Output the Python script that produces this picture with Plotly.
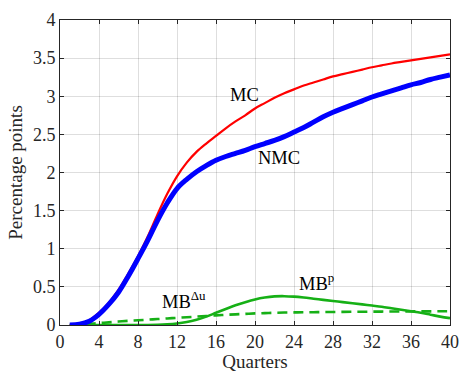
import plotly.graph_objects as go

# Horizon in quarters
quarters = list(range(1, 41))

# MC: total response (percentage points)
mc = [0.00, 0.015, 0.06, 0.16, 0.29, 0.46, 0.67, 0.90, 1.16, 1.45,
      1.72, 1.95, 2.13, 2.27, 2.38, 2.48, 2.58, 2.67, 2.75, 2.84,
      2.91, 2.98, 3.04, 3.09, 3.14, 3.18, 3.22, 3.26, 3.29, 3.32,
      3.35, 3.38, 3.405, 3.43, 3.45, 3.47, 3.49, 3.51, 3.53, 3.55]

# NMC
nmc = [0.00, 0.01, 0.05, 0.14, 0.27, 0.43, 0.64, 0.87, 1.11, 1.37,
       1.60, 1.79, 1.91, 2.01, 2.09, 2.16, 2.21, 2.25, 2.29, 2.34,
       2.38, 2.42, 2.47, 2.53, 2.59, 2.66, 2.73, 2.79, 2.84, 2.89,
       2.94, 2.99, 3.03, 3.07, 3.11, 3.15, 3.18, 3.22, 3.25, 3.28]

# MB^p (solid green)
mb_p = [0.0, 0.0, 0.0, 0.0, 0.0, 0.0, 0.0, 0.0, 0.0, 0.002,
        0.008, 0.02, 0.04, 0.07, 0.11, 0.16, 0.21, 0.26, 0.30, 0.335,
        0.36, 0.375, 0.378, 0.372, 0.36, 0.345, 0.33, 0.315, 0.30, 0.285,
        0.27, 0.255, 0.24, 0.22, 0.20, 0.18, 0.16, 0.135, 0.11, 0.09]

# MB^Δu (dashed green)
mb_du = [0.0, 0.005, 0.015, 0.025, 0.035, 0.045, 0.055, 0.062, 0.07, 0.078,
         0.086, 0.094, 0.102, 0.11, 0.118, 0.126, 0.133, 0.14, 0.146, 0.152,
         0.156, 0.16, 0.163, 0.165, 0.167, 0.168, 0.17, 0.171, 0.172, 0.173,
         0.174, 0.175, 0.176, 0.177, 0.177, 0.178, 0.179, 0.179, 0.18, 0.18]

x_ticks = list(range(0, 41, 4))
y_ticks = [0, 0.5, 1, 1.5, 2, 2.5, 3, 3.5, 4]
y_tick_text = ["0", "0.5", "1", "1.5", "2", "2.5", "3", "3.5", "4"]

FONT = "Liberation Serif"
GREEN = "#16b016"
AXIS_COL = "#262626"
GRID_COL = "rgba(0,0,0,0.13)"

fig = go.Figure()
fig.add_trace(go.Scatter(x=quarters, y=mb_du, mode="lines",
                         line=dict(color=GREEN, width=2.6, dash="10px,6px", shape="spline")))
fig.add_trace(go.Scatter(x=quarters, y=mb_p, mode="lines",
                         line=dict(color=GREEN, width=2.6, shape="spline")))
fig.add_trace(go.Scatter(x=quarters, y=mc, mode="lines",
                         line=dict(color="#ff0000", width=2.2, shape="spline")))
fig.add_trace(go.Scatter(x=quarters, y=nmc, mode="lines",
                         line=dict(color="#0000ff", width=5, shape="spline")))

label_font = dict(family=FONT, size=18.5, color="#000000")
fig.add_annotation(x=18.9, y=3.01, text="MC", showarrow=False, font=label_font)
fig.add_annotation(x=22.5, y=2.19, text="NMC", showarrow=False, font=label_font)
fig.add_annotation(x=12.7, y=0.33, text="MB<sup>Δu</sup>", showarrow=False, font=label_font)
fig.add_annotation(x=26.3, y=0.56, text="MB<sup>p</sup>", showarrow=False, font=label_font)

axis_common = dict(
    showline=True, linecolor=AXIS_COL, linewidth=1, mirror="ticks",
    ticks="inside", ticklen=4, tickcolor=AXIS_COL, tickwidth=1,
    showgrid=True, gridcolor=GRID_COL, gridwidth=1, zeroline=False,
    tickfont=dict(family=FONT, size=18, color=AXIS_COL),
)

fig.update_xaxes(range=[0, 40], tickvals=x_ticks, ticklabeloverflow="allow",
                 title=dict(text="Quarters", font=dict(family=FONT, size=19, color=AXIS_COL), standoff=5),
                 **axis_common)
fig.update_yaxes(range=[0, 4], tickvals=y_ticks, ticktext=y_tick_text,
                 title=dict(text="Percentage points", font=dict(family=FONT, size=19, color=AXIS_COL), standoff=5),
                 **axis_common)

fig.update_layout(
    width=461, height=372,
    margin=dict(l=60, r=2, t=20, b=46),
    plot_bgcolor="white", paper_bgcolor="white",
    showlegend=False,
)

fig.write_html("out.html")
